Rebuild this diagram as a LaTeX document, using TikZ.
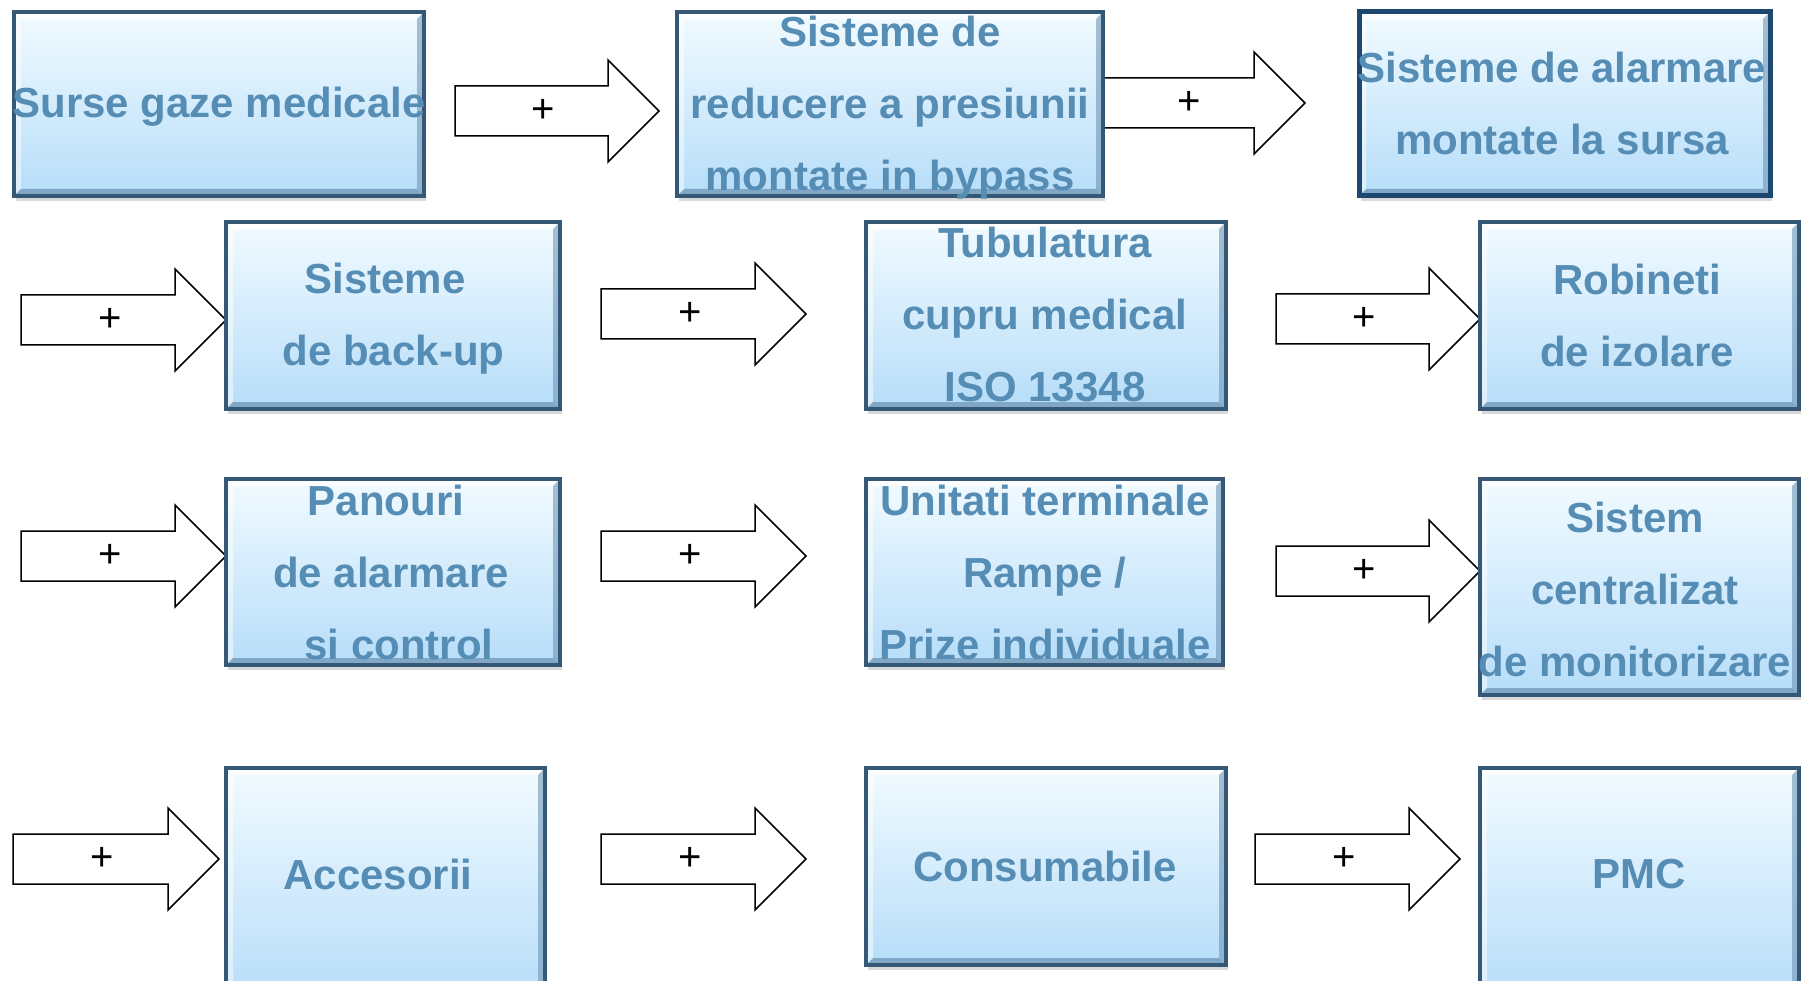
\documentclass[tikz,border=0pt]{standalone}
\usepackage{fontspec}
\setmainfont{Liberation Sans}
\usetikzlibrary{shadows}
\definecolor{txtblue}{RGB}{86,141,181}
\definecolor{boxtop}{RGB}{242,251,255}
\definecolor{boxbot}{RGB}{182,221,249}
\definecolor{boxedge}{RGB}{52,88,118}
\definecolor{navyedge}{RGB}{28,72,112}
\definecolor{bevdark}{RGB}{110,150,182}
\tikzset{
 gbox/.style={rectangle, inner sep=0pt, top color=boxtop, bottom color=boxbot, draw=boxedge, line width=3.5pt,
   drop shadow={shadow xshift=1.5pt, shadow yshift=-5pt, opacity=0.3},
   path picture={
     \fill[white,opacity=0.75] (path picture bounding box.north west) -- (path picture bounding box.north east)
       -- ([xshift=-7pt,yshift=-7pt]path picture bounding box.north east) -- ([xshift=7pt,yshift=-7pt]path picture bounding box.north west) -- cycle;
     \fill[white,opacity=0.5] (path picture bounding box.north west) -- (path picture bounding box.south west)
       -- ([xshift=7pt,yshift=7pt]path picture bounding box.south west) -- ([xshift=7pt,yshift=-7pt]path picture bounding box.north west) -- cycle;
     \fill[bevdark,opacity=0.75] (path picture bounding box.south west) -- (path picture bounding box.south east)
       -- ([xshift=-7pt,yshift=7pt]path picture bounding box.south east) -- ([xshift=7pt,yshift=7pt]path picture bounding box.south west) -- cycle;
     \fill[bevdark,opacity=0.6] (path picture bounding box.north east) -- (path picture bounding box.south east)
       -- ([xshift=-7pt,yshift=7pt]path picture bounding box.south east) -- ([xshift=-7pt,yshift=-7pt]path picture bounding box.north east) -- cycle;
   }},
 txt/.style={text=txtblue, font=\fontsize{42}{72}\selectfont\bfseries, align=center, inner sep=0pt},
 blockarrow/.style={draw=black, fill=white, line width=1.5pt, line join=miter},
 plus/.style={font=\fontsize{40}{40}\selectfont, inner sep=0pt},
}
\newcommand\gb[6][]{\node[gbox,#1,minimum width={(#4-#2)*1pt},minimum height={(#5-#3)*1pt}] (#6) at ({(#2+#4)/2},{(#3+#5)/2}) {};}
\newcommand\pa[4]{%
 \draw[blockarrow] (#2,#4-25) -- (#3-51,#4-25) -- (#3-51,#4-51) -- (#3,#4) -- (#3-51,#4+51) -- (#3-51,#4+25) -- (#2,#4+25) -- cycle;
 \node[plus] (#1) at ({(#2+#3-51)/2+12},#4) {+};}
\begin{document}
\begin{tikzpicture}[x=1pt,y=-1pt]
\useasboundingbox (0,0) rectangle (1806,981);
% arrows
\pa{p1}{455}{659}{111}
\pa{p2}{1100}{1305}{103}
\pa{p3}{21}{226}{320}
\pa{p4}{601}{806}{314}
\pa{p5}{1276}{1480}{319}
\pa{p6}{21}{226}{556}
\pa{p7}{601}{806}{556}
\pa{p8}{1276}{1480}{571}
\pa{p9}{13}{219}{859}
\pa{p10}{601}{806}{859}
\pa{p11}{1255}{1460}{859}
% boxes
\gb{14}{12}{424}{196}{b1}
\gb{677}{12}{1103}{196}{b2}
\gb[draw=navyedge,line width=5pt]{1359}{12}{1770}{196}{b3}
\gb{226}{222}{560}{409}{b4}
\gb{866}{222}{1226}{409}{b5}
\gb{1480}{222}{1799}{409}{b6}
\gb{226}{479}{560}{665}{b7}
\gb{866}{479}{1223}{665}{b8}
\gb{1480}{479}{1799}{695}{b9}
\gb{226}{768}{545}{1000}{b10}
\gb{866}{768}{1226}{965}{b11}
\gb{1480}{768}{1799}{1000}{b12}
% texts
\node[txt] (t1) at (219,107) {Surse gaze medicale};
\node[txt] (t2) at (890,108) {Sisteme de\\reducere a presiunii\\montate in bypass};
\node[txt] (t3) at (1562,103) {Sisteme de alarmare\\montate la sursa};
\node[txt] (t4) at (390,319) {Sisteme\hspace*{10pt}\\\hspace*{7pt}de back-up};
\node[txt] (t5) at (1045,315) {Tubulatura\\cupru medical\\ISO 13348};
\node[txt] (t6) at (1637,315) {Robineti\\de izolare};
\node[txt] (t7) at (391,572) {Panouri\hspace*{10pt}\\de alarmare\\\hspace*{16pt}si control};
\node[txt] (t8) at (1045,572) {Unitati terminale\\Rampe /\hspace*{12pt}\\Prize individuale};
\node[txt] (t9) at (1635,589) {Sistem\\centralizat\\de monitorizare};
\node[txt] (t10) at (378,874) {Accesorii};
\node[txt] (t11) at (1045,866) {Consumabile};
\node[txt] (t12) at (1639,874) {PMC};
\end{tikzpicture}
\end{document}
